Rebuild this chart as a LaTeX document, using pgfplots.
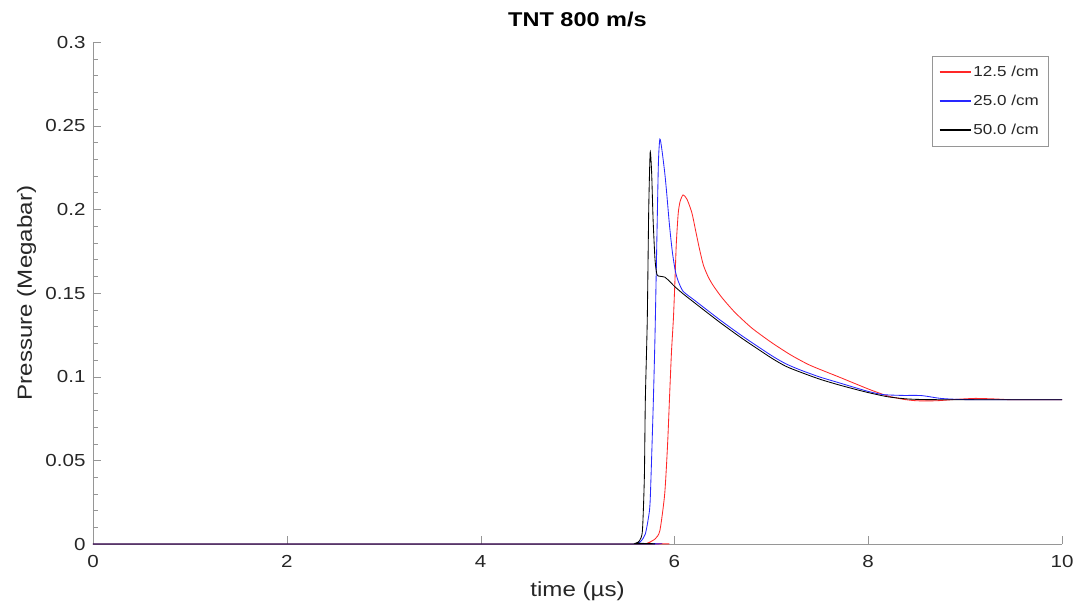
\documentclass[border=0pt]{standalone}
\usepackage{pgfplots}
\pgfplotsset{compat=1.18}
\usepackage{fontspec}
\setmainfont{Liberation Sans}[FakeStretch=1.18]
\definecolor{axgray}{RGB}{150,150,150}
\definecolor{txt}{RGB}{38,38,38}
\definecolor{cred}{RGB}{255,40,40}
\definecolor{cblue}{RGB}{40,40,255}
\begin{document}
\begin{tikzpicture}[x=1bp,y=1bp]
\path[use as bounding box] (-93bp,-57bp) rectangle (983bp,544bp);
\begin{axis}[
  at={(0,0)}, anchor=south west,
  scale only axis, width=969bp, height=502bp,
  xmin=0, xmax=10, ymin=0, ymax=0.3,
  xtick={0,2,4,6,8,10},
  ytick={0,0.05,0.1,0.15,0.2,0.25,0.3},
  yticklabels={0,0.05,0.1,0.15,0.2,0.25,0.3},
  minor y tick num=4,
  axis x line*=bottom, axis y line*=left,
  axis line style={draw=axgray,-},
  tick style={draw=axgray},
  tick align=inside,
  major tick length=8bp,
  minor tick length=5bp,
  /pgf/number format/assume math mode=true,
  ticklabel style={font=\fontsize{17.5}{20}\selectfont, text=txt},
  xticklabel style={yshift=-8bp},
  yticklabel style={xshift=-4bp},
  title={\textbf{TNT 800 m/s}},
  title style={font=\fontsize{20}{24}\selectfont, text=black,
    at={(axis description cs:0.5,1)}, anchor=base, yshift=10bp},
  xlabel={time (µs)},
  ylabel={Pressure (Megabar)},
  label style={font=\fontsize{20.5}{24}\selectfont, text=txt},
  xlabel style={at={(axis description cs:0.5,0)}, anchor=base, yshift=-52bp},
  ylabel style={at={(axis description cs:-0.063,0.5)}, anchor=base},
  legend style={font=\fontsize{14.5}{17}\selectfont, draw=axgray, text=txt,
    at={(0.9856,0.972)}, anchor=north east,
    row sep=13bp, inner xsep=7bp, inner ysep=8bp,
    nodes={inner xsep=2bp}},
  legend cell align=left,
  legend image code/.code={\draw[#1, line width=1.6bp] (0bp,0bp) -- (31bp,0bp);},
  every axis plot/.append style={line width=0.85bp},
]
\addplot[draw=cred, no markers, smooth, tension=0.4] coordinates {
(0,0) (5.65,0) (5.72,0.0005) (5.80,0.003) (5.85,0.008) (5.90,0.03) (5.93,0.06) (5.95,0.088) (5.97,0.115) (5.99,0.135) (6.006,0.158) (6.02,0.180) (6.04,0.198) (6.06,0.205) (6.09,0.2086) (6.13,0.206) (6.18,0.198) (6.22,0.187) (6.26,0.176) (6.30,0.1665) (6.35,0.1595) (6.40,0.1545) (6.48,0.1480) (6.56,0.1425) (6.64,0.1375) (6.8,0.1290) (7.0,0.1205) (7.2,0.1130) (7.4,0.1068) (7.69,0.1000) (7.85,0.0962) (8.02,0.0922) (8.2,0.0885) (8.36,0.0865) (8.5,0.0856) (8.7,0.0856) (8.9,0.0864) (9.1,0.0870) (9.3,0.0867) (9.5,0.0862) (10,0.0862)
};
\addlegendentry{12.5 /cm}
\addplot[draw=cblue, no markers, smooth, tension=0.4] coordinates {
(0,0) (5.55,0) (5.62,0.0005) (5.66,0.002) (5.70,0.006) (5.73,0.015) (5.75,0.026) (5.78,0.08) (5.80,0.125) (5.82,0.185) (5.835,0.228) (5.85,0.242) (5.87,0.236) (5.90,0.222) (5.92,0.21) (5.95,0.19) (5.98,0.174) (6.01,0.163) (6.04,0.157) (6.09,0.151) (6.2,0.146) (6.3,0.1415) (6.48,0.1335) (6.7,0.1243) (7.0,0.1127) (7.15,0.1077) (7.3,0.1040) (7.5,0.0998) (7.69,0.0965) (7.85,0.0937) (8.0,0.0912) (8.15,0.0893) (8.35,0.0888) (8.55,0.0887) (8.75,0.0870) (9.0,0.0863) (9.5,0.0862) (10,0.0862)
};
\addlegendentry{25.0 /cm}
\addplot[draw=black, no markers, smooth, tension=0.4] coordinates {
(0,0) (5.5,0) (5.6,0.0005) (5.64,0.002) (5.67,0.008) (5.69,0.04) (5.70,0.086) (5.72,0.134) (5.735,0.200) (5.75,0.234) (5.765,0.222) (5.78,0.194) (5.80,0.170) (5.82,0.161) (5.85,0.160) (5.90,0.1595) (5.95,0.157) (6.0,0.1540) (6.09,0.1495) (6.2,0.1445) (6.3,0.1400) (6.48,0.1320) (6.7,0.1228) (7.0,0.1112) (7.15,0.1062) (7.3,0.1027) (7.5,0.0985) (7.69,0.0952) (7.85,0.0927) (8.0,0.0905) (8.2,0.0880) (8.4,0.0867) (8.6,0.0863) (9.0,0.0862) (10,0.0862)
};
\addlegendentry{50.0 /cm}
\end{axis}
\end{tikzpicture}
\end{document}
